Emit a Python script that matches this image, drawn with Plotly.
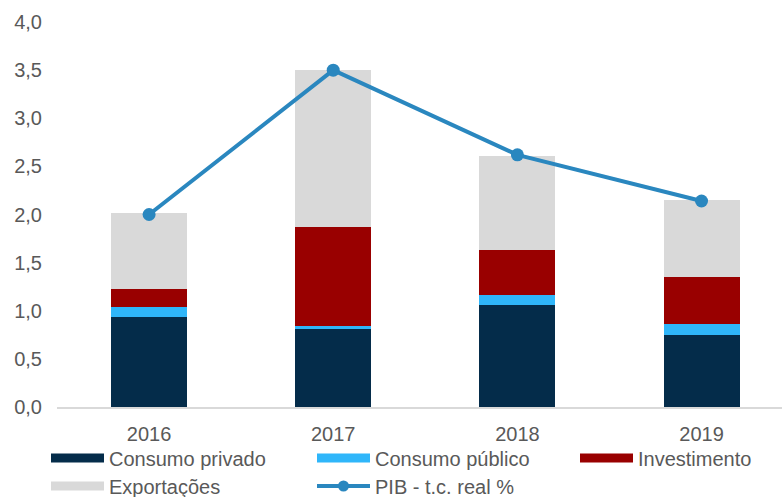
import plotly.graph_objects as go

years = ["2016", "2017", "2018", "2019"]
consumo_privado = [0.94, 0.81, 1.06, 0.75]
consumo_publico = [0.10, 0.03, 0.10, 0.11]
investimento = [0.19, 1.03, 0.47, 0.49]
exportacoes = [0.79, 1.63, 0.98, 0.80]
pib = [2.0, 3.5, 2.62, 2.14]
y_ticks = [0, 0.5, 1.0, 1.5, 2.0, 2.5, 3.0, 3.5, 4.0]

c_priv = "#042c4a"
c_pub = "#2fb6fa"
c_inv = "#990000"
c_exp = "#d9d9d9"
c_pib = "#2a87bf"
txt = "#595959"
FONT = "Liberation Sans, Arial, sans-serif"

fig = go.Figure()
series = [
    ("Consumo privado", consumo_privado, c_priv),
    ("Consumo público", consumo_publico, c_pub),
    ("Investimento", investimento, c_inv),
    ("Exportações", exportacoes, c_exp),
]
for name, vals, col in series:
    fig.add_trace(go.Bar(x=years, y=vals, name=name, marker=dict(color=col, line=dict(width=0)),
                         showlegend=False))

fig.add_trace(go.Scatter(x=years, y=pib, name="PIB - t.c. real %", mode="lines+markers",
                         line=dict(color=c_pib, width=4), marker=dict(size=13, color=c_pib),
                         showlegend=False))

# legend entries, one legend box per entry (3 on the first row, 2 on the second)
legend_ids = ["legend", "legend2", "legend3", "legend4", "legend5"]
for (name, vals, col), lg in zip(series, legend_ids):
    fig.add_trace(go.Scatter(x=[None], y=[None], mode="lines", name=name,
                             line=dict(color=col, width=9), legend=lg, hoverinfo="skip"))
fig.add_trace(go.Scatter(x=[None], y=[None], mode="lines+markers", name="PIB - t.c. real %",
                         line=dict(color=c_pib, width=4), marker=dict(size=11, color=c_pib),
                         legend="legend5", hoverinfo="skip"))

legend_common = dict(orientation="h", xref="container", yref="container", xanchor="left",
                     yanchor="middle", itemwidth=53,
                     font=dict(family=FONT, size=20, color=txt), bgcolor="rgba(0,0,0,0)",
                     itemclick=False)
col_x = [46, 312, 575]
row_y = [458, 486]
positions = [(col_x[0], row_y[0]), (col_x[1], row_y[0]), (col_x[2], row_y[0]),
             (col_x[0], row_y[1]), (col_x[1], row_y[1])]
legends = {}
for lg, (px, py) in zip(legend_ids, positions):
    legends[lg] = dict(x=px / 782, y=1 - py / 497, **legend_common)

fig.update_layout(
    width=782, height=497,
    margin=dict(l=57, r=0, t=22, b=90, autoexpand=False),
    paper_bgcolor="white", plot_bgcolor="white",
    barmode="stack", bargap=0.587,
    separators=",.",
    font=dict(family=FONT, size=20, color=txt),
    xaxis=dict(type="category", range=[-0.5, 3.437], showgrid=False, showline=True,
               linecolor="#d9d9d9", linewidth=2, ticks="", ticklabelstandoff=8,
               automargin=False, tickfont=dict(family=FONT, size=20, color=txt)),
    yaxis=dict(range=[0, 4.0], tickvals=y_ticks, tickformat=".1f", showgrid=False,
               zeroline=False, showline=False, ticks="", ticklabelstandoff=14,
               automargin=False, tickfont=dict(family=FONT, size=20, color=txt)),
    **legends,
)

fig.write_html("out.html", config={"displayModeBar": False},
               post_script="document.body.style.margin='0';document.body.style.overflow='hidden';")
